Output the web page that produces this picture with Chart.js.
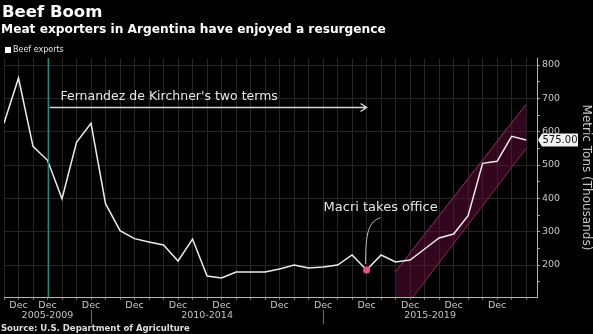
<!DOCTYPE html>
<html>
<head>
<meta charset="utf-8">
<script src="https://cdn.jsdelivr.net/npm/chart.js@4"></script>
<style>
  html, body { margin: 0; padding: 0; background: #000; }
  #wrap { position: relative; width: 593px; height: 334px; overflow: hidden; }
  #chart { position: absolute; left: 0; top: 0; }
  .txt { position: absolute; color: #fff; font-family: 'DejaVu Sans', sans-serif; white-space: nowrap; line-height: 1; }
  #title { left: 2px; top: 4px; font-size: 16.5px; font-weight: bold; }
  #subtitle { left: 1px; top: 22.5px; font-size: 12.2px; font-weight: bold; }
  #legend { left: 5px; top: 46px; font-size: 8px; color: #e6e6e6; }
  #legend i { display: inline-block; width: 6px; height: 6px; background: #fff; margin-right: 2px; vertical-align: -0.5px; }
  #source { left: 1px; top: 324px; font-size: 8.5px; font-weight: bold; color: #ddd; }
</style>
</head>
<body>
<div id="wrap">
  <canvas id="chart" width="593" height="334"></canvas>
  <div class="txt" id="title">Beef Boom</div>
  <div class="txt" id="subtitle">Meat exporters in Argentina have enjoyed a resurgence</div>
  <div class="txt" id="legend"><i></i>Beef exports</div>
  <div class="txt" id="source">Source: U.S. Department of Agriculture</div>
</div>
<script>
// one entry per period on the x axis
const tickLabels = ['', 'Dec', '', 'Dec', '', '', 'Dec', '', '', 'Dec', '', '', 'Dec', '', '', 'Dec', '', '', '',
                    'Dec', '', '', 'Dec', '', '', 'Dec', '', '', 'Dec', '', '', 'Dec', '', '', 'Dec', '', ''];
const beefExports = [625, 761, 556, 514, 399, 568, 625, 384, 303, 279, 269, 260, 212, 278, 167, 161, 179, 179, 179,
                     188, 200, 191, 194, 200, 230, 185, 230, 209, 215, 248, 281, 293, 348, 505, 511, 586, 575];

// year groups under the ticks, split at these periods
const yearGroups = ['2005-2009', '2010-2014', '2015-2019'];
const groupBreaks = [6, 22];

// trend channel since the change of government
const channelAt = [27, 36];
const channelUpper = [180, 682];
const channelLower = [36, 550];

const kirchnerStart = 3;
const macriStart = 25;
const lastValue = beefExports[beefExports.length - 1];

const FONT = "'DejaVu Sans', sans-serif";

const annotations = {
    id: 'annotations',
    afterDatasetsDraw(chart) {
        const { ctx, chartArea: a, scales: { x, y } } = chart;
        ctx.save();

        // start of the first term
        const kx = Math.round(x.getPixelForValue(kirchnerStart)) + 0.5;
        ctx.strokeStyle = '#1e8c7e';
        ctx.lineWidth = 1.2;
        ctx.beginPath();
        ctx.moveTo(kx, a.top);
        ctx.lineTo(kx, a.bottom);
        ctx.stroke();

        // arrow spanning both terms
        const ay = Math.round(y.getPixelForValue(675)) + 0.5;
        const ex = x.getPixelForValue(macriStart);
        ctx.strokeStyle = '#d6d6d6';
        ctx.lineWidth = 1.5;
        ctx.beginPath();
        ctx.moveTo(kx + 1, ay);
        ctx.lineTo(ex, ay);
        ctx.moveTo(ex - 6, ay - 4);
        ctx.lineTo(ex, ay);
        ctx.lineTo(ex - 6, ay + 4);
        ctx.stroke();

        ctx.fillStyle = '#e6e6e6';
        ctx.font = '12.5px ' + FONT;
        ctx.textBaseline = 'middle';
        ctx.textAlign = 'left';
        ctx.fillText("Fernandez de Kirchner's two terms", kx + 12, y.getPixelForValue(706));

        // Macri label with connector to the point
        const mx = x.getPixelForValue(macriStart);
        const my = y.getPixelForValue(beefExports[macriStart]);
        const ty = y.getPixelForValue(372);
        ctx.font = '13px ' + FONT;
        ctx.fillText('Macri takes office', mx - 43, ty);
        ctx.strokeStyle = '#bdbdbd';
        ctx.lineWidth = 1;
        ctx.beginPath();
        ctx.moveTo(mx + 14, ty + 10);
        ctx.bezierCurveTo(mx + 2, ty + 14, mx - 1, ty + 24, mx - 1, my - 6);
        ctx.stroke();
        ctx.restore();
    },
    afterDraw(chart) {
        const { ctx, chartArea: a, scales: { x, y } } = chart;
        ctx.save();

        // year group labels and separators
        const edges = [a.left, ...groupBreaks.map(v => x.getPixelForValue(v)), a.right];
        ctx.fillStyle = '#c4c4c4';
        ctx.font = '9.5px ' + FONT;
        ctx.textAlign = 'center';
        ctx.textBaseline = 'middle';
        yearGroups.forEach((g, i) => ctx.fillText(g, (edges[i] + edges[i + 1]) / 2, 316));
        ctx.strokeStyle = '#6a6a6a';
        ctx.lineWidth = 1;
        groupBreaks.forEach(v => {
            const px = Math.round(x.getPixelForValue(v)) + 0.5;
            ctx.beginPath();
            ctx.moveTo(px, 310);
            ctx.lineTo(px, 324);
            ctx.stroke();
        });

        // last value tag on the axis
        const vy = Math.round(y.getPixelForValue(lastValue));
        const bx = a.right + 1;
        ctx.fillStyle = '#f2f2f2';
        ctx.beginPath();
        ctx.moveTo(bx, vy);
        ctx.lineTo(bx + 4, vy - 6.5);
        ctx.lineTo(bx + 40, vy - 6.5);
        ctx.lineTo(bx + 40, vy + 6.5);
        ctx.lineTo(bx + 4, vy + 6.5);
        ctx.closePath();
        ctx.fill();
        ctx.fillStyle = '#111';
        ctx.font = '10px ' + FONT;
        ctx.textAlign = 'left';
        ctx.fillText(lastValue.toFixed(2), bx + 4.5, vy + 0.5);
        ctx.restore();
    }
};

new Chart(document.getElementById('chart'), {
    type: 'line',
    data: {
        labels: tickLabels.map((_, i) => i),
        datasets: [
            {
                label: 'Macri',
                data: [{ x: macriStart, y: beefExports[macriStart] }],
                showLine: false,
                pointRadius: 3.5,
                pointBackgroundColor: '#ea4f8c',
                pointBorderColor: '#ea4f8c',
                pointBorderWidth: 0
            },
            {
                label: 'Beef exports',
                data: beefExports,
                borderColor: '#ececec',
                borderWidth: 1.5,
                pointRadius: 0,
                tension: 0
            },
            {
                label: 'Channel top',
                data: channelAt.map((v, i) => ({ x: v, y: channelUpper[i] })),
                borderColor: '#982c62',
                borderWidth: 1,
                pointRadius: 0,
                backgroundColor: 'rgba(100, 12, 56, 0.5)',
                fill: '+1'
            },
            {
                label: 'Channel bottom',
                data: channelAt.map((v, i) => ({ x: v, y: channelLower[i] })),
                borderColor: '#982c62',
                borderWidth: 1,
                pointRadius: 0
            }
        ]
    },
    options: {
        responsive: false,
        animation: false,
        events: [],
        layout: { padding: { top: 58, left: 0, right: 0, bottom: 0 } },
        plugins: {
            legend: { display: false },
            tooltip: { enabled: false }
        },
        scales: {
            x: {
                type: 'linear',
                min: 0,
                max: 36.75,
                afterFit: s => { s.height = 37; },
                border: { color: '#b5b5b5' },
                grid: { color: '#262626', tickColor: '#6f6f6f', tickLength: 3 },
                ticks: {
                    stepSize: 1,
                    autoSkip: false,
                    maxRotation: 0,
                    includeBounds: false,
                    padding: 0,
                    color: '#c8c8c8',
                    font: { family: FONT, size: 9.5 },
                    callback: v => tickLabels[v] || ''
                }
            },
            y: {
                position: 'right',
                min: 104,
                max: 821,
                afterFit: s => { s.width = 56; },
                border: { color: '#b5b5b5' },
                grid: {
                    color: c => (c.tick && c.tick.value % 100 === 0) ? '#262626' : 'rgba(0,0,0,0)',
                    tickColor: '#9a9a9a',
                    tickLength: 3
                },
                ticks: {
                    stepSize: 50,
                    includeBounds: false,
                    padding: 2,
                    color: '#c8c8c8',
                    font: { family: FONT, size: 9.5 },
                    callback: v => v % 100 === 0 ? v : ''
                },
                title: {
                    display: true,
                    text: 'Metric Tons (Thousands)',
                    color: '#c8c8c8',
                    font: { family: FONT, size: 12 },
                    padding: { top: 0, bottom: 2 }
                }
            }
        }
    },
    plugins: [annotations]
});
</script>
</body>
</html>
